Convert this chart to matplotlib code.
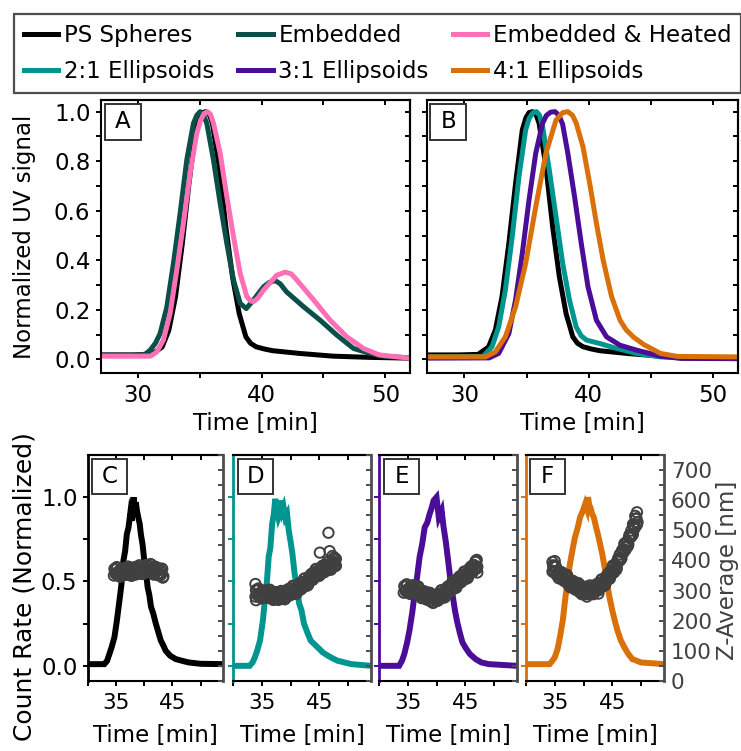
import matplotlib
matplotlib.use('Agg')
import matplotlib.pyplot as plt
from matplotlib.ticker import MultipleLocator, FixedLocator
from matplotlib.patches import Rectangle

# ---- UV traces (panels A and B), time in min, normalized signal ----
ps_t = [27, 29.5, 31.1, 31.95, 32.49, 33.03, 33.58, 34.12, 34.66, 34.95, 35.2, 35.47, 35.75,
        36.01, 36.56, 37.1, 37.64, 38.18, 38.72, 39.1, 39.54, 40.2, 40.89, 43.06, 45.77, 48.8, 52]
ps_v = [0.018, 0.018, 0.02, 0.05, 0.118, 0.253, 0.468, 0.71, 0.926, 0.975, 0.996, 1.0, 0.99,
        0.953, 0.778, 0.535, 0.333, 0.185, 0.091, 0.065, 0.051, 0.042, 0.035, 0.024, 0.013,
        0.008, 0.005]

emb_t = [27, 30.2, 30.6, 30.97, 31.4, 31.78, 32.32, 32.86, 33.4, 33.94, 34.48, 34.75, 35.02,
         35.3, 35.56, 36.1, 36.64, 37.18, 37.72, 38.26, 38.75, 39.34, 40.15, 40.6, 41.09, 41.5,
         42.0, 43.4, 44.73, 46.08, 47.43, 48.78, 50.0, 52]
emb_v = [0.017, 0.017, 0.022, 0.037, 0.065, 0.104, 0.21, 0.387, 0.589, 0.805, 0.953, 0.985, 1.0,
         0.985, 0.953, 0.805, 0.63, 0.468, 0.32, 0.226, 0.205, 0.24, 0.293, 0.31, 0.318, 0.305,
         0.273, 0.212, 0.158, 0.098, 0.044, 0.024, 0.012, 0.006]

heat_t = [27, 31.0, 31.51, 32.05, 32.59, 33.13, 33.67, 34.21, 34.75, 35.05, 35.35, 35.61, 35.85,
          36.1, 36.64, 37.18, 37.72, 38.26, 38.8, 39.1, 39.34, 39.7, 40.15, 41.23, 41.9, 42.4,
          42.85, 44.2, 45.54, 46.89, 48.24, 49.5, 52]
heat_v = [0.013, 0.013, 0.03, 0.078, 0.185, 0.36, 0.549, 0.751, 0.912, 0.965, 0.993, 1.0, 0.99,
          0.953, 0.832, 0.657, 0.495, 0.347, 0.253, 0.236, 0.233, 0.248, 0.28, 0.34, 0.352,
          0.345, 0.32, 0.24, 0.158, 0.091, 0.044, 0.018, 0.005]

e21_t = [27, 31.5, 32.22, 32.76, 33.3, 33.85, 34.39, 34.93, 35.2, 35.5, 35.8, 36.05, 36.29,
         36.83, 37.37, 37.91, 38.45, 38.99, 39.4, 39.81, 40.89, 42.25, 43.87, 45.77, 48, 52]
e21_v = [0.01, 0.012, 0.05, 0.131, 0.28, 0.495, 0.737, 0.926, 0.972, 0.995, 1.0, 0.985, 0.94,
         0.764, 0.576, 0.387, 0.24, 0.131, 0.095, 0.078, 0.064, 0.044, 0.024, 0.01, 0.005, 0.003]

e31_t = [27, 32.0, 32.76, 33.58, 34.12, 34.66, 35.2, 35.74, 36.29, 36.6, 36.95, 37.29, 37.6,
         37.9, 38.32, 38.86, 39.4, 39.94, 40.62, 41.43, 42.52, 43.87, 45.77, 47.4, 52]
e31_v = [0.005, 0.006, 0.024, 0.104, 0.24, 0.428, 0.643, 0.832, 0.953, 0.985, 0.998, 1.0, 0.985,
         0.95, 0.832, 0.657, 0.468, 0.293, 0.158, 0.091, 0.057, 0.037, 0.013, 0.004, 0.003]

e41_t = [27, 31.7, 32.49, 33.3, 34.12, 34.93, 35.74, 36.56, 37.37, 37.91, 38.32, 38.7, 39.0,
         39.54, 40.08, 40.62, 41.16, 41.84, 42.52, 43.0, 43.6, 44.42, 45.77, 47.12, 52]
e41_v = [0.01, 0.01, 0.03, 0.091, 0.212, 0.387, 0.616, 0.832, 0.966, 0.996, 1.0, 0.985, 0.953,
         0.858, 0.71, 0.549, 0.401, 0.253, 0.158, 0.12, 0.09, 0.06, 0.024, 0.012, 0.01]

# ---- DLS count rate traces (panels C-F) ----
c_t = [30, 32.9, 33.4, 33.8, 34.2, 34.7, 35.1, 35.6, 35.9, 36.3, 36.6, 36.9, 37.2, 37.5, 37.8,
       38.1, 38.3, 38.5, 38.7, 38.94, 39.2, 39.4, 39.7, 40.0, 40.3, 40.6, 40.9, 41.2, 41.6,
       42.06, 42.5, 42.94, 43.4, 43.8, 44.6, 45.6, 46.7, 47.9, 50, 54]
c_v = [0.01, 0.01, 0.03, 0.07, 0.11, 0.17, 0.26, 0.39, 0.47, 0.625, 0.68, 0.78, 0.82, 0.9, 0.86,
       1.0, 0.9, 0.97, 0.92, 0.88, 0.84, 0.78, 0.72, 0.625, 0.56, 0.466, 0.42, 0.35, 0.31,
       0.25, 0.2, 0.15, 0.12, 0.09, 0.06, 0.04, 0.03, 0.02, 0.012, 0.01]

d_t = [30, 32.9, 33.4, 33.8, 34.2, 34.7, 35.2, 35.6, 35.9, 36.2, 36.5, 36.8, 37.1, 37.35, 37.6,
       37.9, 38.1, 38.35, 38.6, 38.8, 39.1, 39.4, 39.7, 40.0, 40.35, 40.7, 41.1, 41.5, 41.9,
       42.35, 42.9, 43.5, 44.1, 44.7, 45.6, 46.5, 47.3, 48.2, 49.4, 50.6, 54]
d_v = [0.0, 0.0, 0.02, 0.05, 0.09, 0.15, 0.27, 0.41, 0.5, 0.645, 0.7, 0.84, 0.9, 0.99, 0.93,
       0.88, 0.9, 0.98, 0.92, 0.94, 0.88, 0.9, 0.8, 0.74, 0.66, 0.55, 0.47, 0.37, 0.33,
       0.25, 0.2, 0.15, 0.13, 0.11, 0.08, 0.06, 0.045, 0.03, 0.02, 0.01, 0.0]

e_t = [30, 33.5, 34.0, 34.4, 34.9, 35.3, 35.8, 36.2, 36.6, 37.06, 37.5, 37.94, 38.4, 38.8,
       39.1, 39.5, 40.0, 40.4, 40.9, 41.2, 41.6, 42.0, 42.35, 42.8, 43.2, 43.6, 44.1, 44.5,
       45.0, 45.8, 46.8, 47.8, 49.1, 54]
e_v = [0.0, 0.0, 0.03, 0.07, 0.14, 0.21, 0.32, 0.43, 0.52, 0.645, 0.72, 0.82, 0.85, 0.9,
       0.93, 0.98, 1.0, 0.88, 0.92, 0.83, 0.74, 0.63, 0.53, 0.42, 0.33, 0.26, 0.19, 0.14,
       0.11, 0.07, 0.04, 0.02, 0.01, 0.0]

f_t = [30, 34.1, 34.6, 35.0, 35.5, 35.9, 36.4, 36.8, 37.2, 37.65, 38.1, 38.5, 39.0, 39.4,
       39.9, 40.3, 40.6, 40.8, 41.0, 41.2, 41.5, 41.8, 42.2, 42.5, 42.9, 43.25, 43.7, 44.1,
       44.5, 45.0, 45.5, 45.9, 46.5, 47.1, 47.8, 48.5, 50.0, 54]
f_v = [0.01, 0.01, 0.03, 0.05, 0.1, 0.17, 0.27, 0.39, 0.5, 0.605, 0.69, 0.76, 0.82, 0.88,
       0.92, 0.96, 0.93, 1.0, 0.95, 0.94, 0.9, 0.88, 0.82, 0.78, 0.72, 0.665, 0.58, 0.49,
       0.41, 0.33, 0.26, 0.21, 0.15, 0.11, 0.07, 0.04, 0.02, 0.01]

# ---- Z-average (nm) points, read in two passes across each blob ----
cz_t = [34.6, 34.8, 35.0, 35.2, 35.4, 35.6, 35.8, 36.0, 36.2, 36.4, 36.6, 36.8, 37.0, 37.2,
        37.4, 37.6, 37.8, 38.0, 38.2, 38.4, 38.6, 38.8, 39.0, 39.2, 39.4, 39.6, 39.8, 40.0,
        40.2, 40.4, 40.6, 40.8, 41.0, 41.2, 41.4, 41.6, 41.8, 42.0, 42.2, 42.4, 42.6, 42.8,
        43.0, 43.2, 43.4,
        34.7, 34.9, 35.1, 35.3, 35.5, 35.7, 35.9, 36.1, 36.3, 36.5, 36.7, 36.9, 37.1, 37.3,
        37.5, 37.7, 37.9, 38.1, 38.3, 38.5, 38.7, 38.9, 39.1, 39.3, 39.5, 39.7, 39.9, 40.1,
        40.3, 40.5, 40.7, 40.9, 41.1, 41.3, 41.5, 41.7, 41.9, 42.1, 42.3, 42.5, 42.7, 42.9,
        43.1, 43.3]
cz_nm = [350, 370, 358, 376, 354, 366, 348, 372, 362, 352, 352, 372, 360, 378, 356, 368, 350,
         374, 364, 354, 354, 374, 362, 382, 360, 374, 356, 382, 372, 362, 361, 381, 369, 387,
         363, 375, 355, 379, 366, 356, 350, 370, 354, 372, 347,
         372, 356, 378, 350, 364, 346, 368, 358, 374, 355, 374, 358, 380, 353, 367, 349, 372,
         362, 378, 358, 376, 361, 384, 357, 372, 355, 378, 368, 385, 365, 383, 367, 388, 359,
         372, 353, 374, 362, 376, 354, 370, 352, 373, 343]

dz_t = [33.9, 34.1, 34.3, 34.5, 34.7, 34.9, 35.1, 35.3, 35.5, 35.7, 35.9, 36.1, 36.3, 36.5,
        36.7, 36.9, 37.1, 37.3, 37.5, 37.7, 37.9, 38.1, 38.3, 38.5, 38.7, 38.9, 39.1, 39.3,
        39.5, 39.7, 39.9, 40.1, 40.3, 40.5, 40.7, 40.9, 41.1, 41.3, 41.5, 41.7, 41.9, 42.1,
        42.3, 42.5, 42.7, 42.9, 43.1, 43.3, 43.5, 43.7, 43.9, 44.1, 44.3, 44.5, 44.7, 44.9,
        45.1, 45.3, 45.5, 45.7, 45.9, 46.1, 46.3, 46.5, 46.7, 46.9, 47.1, 47.3, 47.5, 47.7,
        47.9, 33.9, 34.0, 45.1, 46.6, 46.8, 47.6, 47.9, 47.3,
        34.0, 34.2, 34.4, 34.6, 34.8, 35.0, 35.2, 35.4, 35.6, 35.8, 36.0, 36.2, 36.4, 36.6,
        36.8, 37.0, 37.2, 37.4, 37.6, 37.8, 38.0, 38.2, 38.4, 38.6, 38.8, 39.0, 39.2, 39.4,
        39.6, 39.8, 40.0, 40.2, 40.4, 40.6, 40.8, 41.0, 41.2, 41.4, 41.6, 41.8, 42.0, 42.2,
        42.4, 42.6, 42.8, 43.0, 43.2, 43.4, 43.6, 43.8, 44.0, 44.2, 44.4, 44.6, 44.8, 45.0,
        45.2, 45.4, 45.6, 45.8, 46.0, 46.2, 46.4, 46.6, 46.8, 47.0, 47.2, 47.4, 47.6, 47.8]
dz_nm = [280, 300, 287, 305, 282, 294, 276, 299, 289, 278, 276, 296, 283, 300, 278, 289, 271,
         294, 283, 272, 269, 290, 279, 298, 277, 290, 274, 300, 292, 284, 284, 306, 295, 315,
         294, 308, 292, 319, 311, 304, 305, 328, 319, 340, 320, 335, 321, 348, 341, 335, 336,
         359, 350, 371, 352, 367, 352, 377, 369, 361, 361, 384, 374, 394, 374, 388, 372, 398,
         390, 382, 382, 322, 268, 426, 492, 431, 410, 405, 415,
         302, 286, 307, 279, 292, 274, 296, 285, 301, 280, 298, 282, 303, 274, 288, 269, 291,
         280, 295, 274, 291, 276, 299, 273, 288, 271, 295, 287, 305, 287, 307, 292, 316, 289,
         305, 289, 314, 306, 325, 307, 328, 315, 340, 315, 332, 317, 342, 336, 355, 338, 360,
         347, 372, 347, 364, 349, 373, 365, 383, 365, 385, 371, 395, 369, 385, 369, 393, 385,
         403, 385]

ez_t = [34.3, 34.5, 34.7, 34.9, 35.1, 35.3, 35.5, 35.7, 35.9, 36.1, 36.3, 36.5, 36.7, 36.9,
        37.1, 37.3, 37.5, 37.7, 37.9, 38.1, 38.3, 38.5, 38.7, 38.9, 39.1, 39.3, 39.5, 39.7,
        39.9, 40.1, 40.3, 40.5, 40.7, 40.9, 41.1, 41.3, 41.5, 41.7, 41.9, 42.1, 42.3, 42.5,
        42.7, 42.9, 43.1, 43.3, 43.5, 43.7, 43.9, 44.1, 44.3, 44.5, 44.7, 44.9, 45.1, 45.3,
        45.5, 45.7, 45.9, 46.1, 46.3, 46.5, 46.7, 46.9, 47.1, 47.0, 46.8, 47.1,
        34.4, 34.6, 34.8, 35.0, 35.2, 35.4, 35.6, 35.8, 36.0, 36.2, 36.4, 36.6, 36.8, 37.0,
        37.2, 37.4, 37.6, 37.8, 38.0, 38.2, 38.4, 38.6, 38.8, 39.0, 39.2, 39.4, 39.6, 39.8,
        40.0, 40.2, 40.4, 40.6, 40.8, 41.0, 41.2, 41.4, 41.6, 41.8, 42.0, 42.2, 42.4, 42.6,
        42.8, 43.0, 43.2, 43.4, 43.6, 43.8, 44.0, 44.2, 44.4, 44.6, 44.8, 45.0, 45.2, 45.4,
        45.6, 45.8, 46.0, 46.2, 46.4, 46.6, 46.8, 47.0]
ez_nm = [293, 313, 301, 319, 297, 309, 291, 316, 306, 295, 291, 309, 295, 311, 287, 296, 276,
         298, 286, 274, 270, 288, 274, 291, 268, 280, 261, 285, 275, 266, 267, 289, 280, 301,
         281, 296, 281, 308, 301, 294, 295, 318, 309, 330, 312, 327, 312, 340, 333, 327, 328,
         351, 342, 363, 344, 360, 345, 373, 366, 360, 361, 385, 376, 398, 379, 402, 395, 360,
         315, 299, 321, 293, 307, 289, 312, 302, 318, 297, 312, 294, 314, 284, 296, 275, 295,
         283, 297, 275, 291, 273, 293, 264, 278, 259, 281, 271, 287, 269, 290, 276, 301, 276,
         293, 277, 302, 295, 314, 297, 318, 306, 331, 306, 323, 309, 334, 327, 347, 330, 351,
         338, 363, 338, 356, 341, 367, 360, 380, 363, 385, 372, 398, 373]

fz_t = [34.6, 34.8, 35.0, 35.2, 35.4, 35.6, 35.8, 36.0, 36.2, 36.4, 36.6, 36.8, 37.0, 37.2,
        37.4, 37.6, 37.8, 38.0, 38.2, 38.4, 38.6, 38.8, 39.0, 39.2, 39.4, 39.6, 39.8, 40.0,
        40.2, 40.4, 40.6, 40.8, 41.0, 41.2, 41.4, 41.6, 41.8, 42.0, 42.2, 42.4, 42.6, 42.8,
        43.0, 43.2, 43.4, 43.6, 43.8, 44.0, 44.2, 44.4, 44.6, 44.8, 45.0, 45.2, 45.4, 45.6,
        45.8, 46.0, 46.2, 46.4, 46.6, 46.8, 47.0, 47.2, 47.4, 47.6, 47.8, 48.0, 48.2, 48.4,
        48.6, 48.8, 49.0, 49.2, 49.4, 34.6, 35.0, 49.3, 49.0, 48.6, 40.6, 42.6,
        34.7, 34.9, 35.1, 35.3, 35.5, 35.7, 35.9, 36.1, 36.3, 36.5, 36.7, 36.9, 37.1, 37.3,
        37.5, 37.7, 37.9, 38.1, 38.3, 38.5, 38.7, 38.9, 39.1, 39.3, 39.5, 39.7, 39.9, 40.1,
        40.3, 40.5, 40.7, 40.9, 41.1, 41.3, 41.5, 41.7, 41.9, 42.1, 42.3, 42.5, 42.7, 42.9,
        43.1, 43.3, 43.5, 43.7, 43.9, 44.1, 44.3, 44.5, 44.7, 44.9, 45.1, 45.3, 45.5, 45.7,
        45.9, 46.1, 46.3, 46.5, 46.7, 46.9, 47.1, 47.3, 47.5, 47.7, 47.9, 48.1, 48.3, 48.5,
        48.7, 48.9, 49.1, 49.3]
fz_nm = [363, 380, 364, 379, 354, 362, 341, 362, 349, 336, 332, 349, 334, 349, 324, 333, 312,
         333, 320, 307, 303, 321, 307, 322, 298, 309, 289, 312, 301, 290, 288, 308, 297, 316,
         295, 308, 291, 317, 309, 301, 301, 324, 316, 337, 319, 334, 321, 349, 343, 338, 340,
         366, 360, 384, 367, 386, 375, 406, 404, 401, 407, 435, 431, 457, 443, 463, 453, 485,
         483, 481, 487, 516, 513, 540, 527, 395, 398, 560, 548, 520, 280, 290,
         384, 364, 383, 352, 362, 341, 360, 347, 360, 337, 352, 333, 352, 321, 332, 311, 330,
         317, 331, 308, 324, 306, 325, 295, 307, 288, 308, 297, 313, 292, 310, 294, 317, 290,
         305, 288, 312, 304, 322, 304, 325, 312, 337, 313, 330, 317, 343, 337, 357, 342, 365,
         355, 383, 360, 380, 369, 399, 396, 420, 407, 433, 425, 455, 435, 457, 447, 477, 475,
         499, 487, 514, 507, 538, 519]

labels = ['PS Spheres', 'Embedded', 'Embedded & Heated',
          '2:1 Ellipsoids', '3:1 Ellipsoids', '4:1 Ellipsoids']
colors = ['#000000', '#0b4f49', '#ff6fb6', '#00958f', '#4b0c98', '#d9700a']
dot_gray = '#404040'

W, H = 741, 751
fig = plt.figure(figsize=(W / 100, H / 100), dpi=100)


def add_ax(l, r, t, b):
    return fig.add_axes([l / W, 1 - b / H, (r - l) / W, (b - t) / H])


def letter_box(ax, s, cx, cy, size=36):
    bb = ax.get_position()
    w = size / (bb.width * W)
    h = size / (bb.height * H)
    ax.add_patch(Rectangle((cx - w / 2, cy - h / 2), w, h, transform=ax.transAxes,
                           facecolor='white', edgecolor='#333333', lw=1.4, zorder=5))
    ax.text(cx, cy, s, transform=ax.transAxes, ha='center', va='center',
            fontsize=16.5, zorder=6)


def top_ticks(ax, ticks):
    sec = ax.secondary_xaxis('top')
    sec.set_xticks(ticks)
    sec.tick_params(direction='in', length=3.6, width=1.4, labeltop=False)
    sec.spines['top'].set_linewidth(1.5)
    return sec


# ---------------- panels A and B ----------------
axA = add_ax(101, 410, 100, 373)
axB = add_ax(427, 738, 100, 373)

lw = 3.6
hA = []
hA.append(axA.plot(ps_t, ps_v, color=colors[0], lw=lw)[0])
hA.append(axA.plot(emb_t, emb_v, color=colors[1], lw=lw)[0])
hA.append(axA.plot(heat_t, heat_v, color=colors[2], lw=lw)[0])
axB.plot(ps_t, ps_v, color=colors[0], lw=lw)
hB = []
hB.append(axB.plot(e21_t, e21_v, color=colors[3], lw=lw)[0])
hB.append(axB.plot(e31_t, e31_v, color=colors[4], lw=lw)[0])
hB.append(axB.plot(e41_t, e41_v, color=colors[5], lw=lw)[0])

for ax in (axA, axB):
    ax.set_xlim(27, 52)
    ax.set_ylim(-0.055, 1.047)
    ax.xaxis.set_major_locator(MultipleLocator(10))
    ax.xaxis.set_minor_locator(MultipleLocator(5))
    ax.yaxis.set_major_locator(MultipleLocator(0.2))
    ax.yaxis.set_minor_locator(MultipleLocator(0.1))
    ax.tick_params(which='both', direction='out', length=3.6, width=1.4, labelsize=16.5, pad=4)
    for sp in ax.spines.values():
        sp.set_linewidth(1.5)
    top_ticks(ax, [30, 35, 40, 45, 50])
    sec = ax.secondary_yaxis('right')
    sec.set_yticks([0, 0.2, 0.4, 0.6, 0.8, 1.0])
    sec.yaxis.set_minor_locator(MultipleLocator(0.1))
    sec.tick_params(which='both', direction='in', length=3.6, width=1.4, labelright=False)
    sec.spines['right'].set_linewidth(1.5)
    ax.set_xlabel('Time [min]', fontsize=16.5, labelpad=4)

axB.tick_params(labelleft=False)
axA.set_ylabel('Normalized UV signal', fontsize=16.5)
axA.yaxis.set_label_coords(-0.21, 0.5)
letter_box(axA, 'A', 0.071, 0.921)
letter_box(axB, 'B', 0.069, 0.921)

# ---------------- panels C-F ----------------
bottom = [
    ('C', 88, 223, colors[0], c_t, c_v, cz_t, cz_nm, 0.159),
    ('D', 233, 371, colors[3], d_t, d_v, dz_t, dz_nm, 0.164),
    ('E', 379, 517, colors[4], e_t, e_v, ez_t, ez_nm, 0.164),
    ('F', 526, 664, colors[5], f_t, f_v, fz_t, fz_nm, 0.157),
]
for i, (name, l, r, col, tt, vv, zt, znm, lx) in enumerate(bottom):
    ax = add_ax(l, r, 455, 681)
    ax.plot(tt, vv, color=col, lw=4.3, solid_joinstyle='miter')
    ax.set_xlim(30, 54)
    ax.set_ylim(-0.09, 1.25)
    ax.xaxis.set_major_locator(FixedLocator([35, 45]))
    ax.xaxis.set_minor_locator(FixedLocator([30, 40, 50]))
    ax.yaxis.set_major_locator(FixedLocator([0, 0.5, 1.0]))
    ax.yaxis.set_minor_locator(FixedLocator([0.25, 0.75]))
    ax.tick_params(which='both', direction='out', length=3.6, width=1.4, labelsize=15.5, pad=5)
    ax.tick_params(axis='y', which='both', colors=col, labelsize=16.5, pad=4)
    ax.tick_params(axis='y', labelcolor='black')
    ax.yaxis.set_major_formatter('{x:.1f}')
    if i > 0:
        ax.tick_params(labelleft=False)
    ax.spines['left'].set_color(col)
    ax.spines['left'].set_linewidth(2)
    ax.spines['right'].set_visible(False)
    for s in ('top', 'bottom'):
        ax.spines[s].set_linewidth(1.5)
    top_ticks(ax, [35, 40, 45, 50])
    ax.set_xlabel('Time [min]', fontsize=16.5, labelpad=8)
    letter_box(ax, name, lx, 0.905, size=35)

    ax2 = ax.twinx()
    ax2.scatter(zt, znm, s=55, facecolors='none', edgecolors=dot_gray, linewidths=1.4)
    ax2.set_ylim(0, 750)
    ax2.yaxis.set_major_locator(MultipleLocator(100))
    ax2.yaxis.set_minor_locator(MultipleLocator(50))
    ax2.tick_params(which='both', direction='in', length=3.6, width=1.4, colors='#4d4d4d',
                    labelsize=15.5, labelcolor=dot_gray, pad=5)
    for s in ('left', 'top', 'bottom'):
        ax2.spines[s].set_visible(False)
    ax2.spines['right'].set_color('#4d4d4d')
    ax2.spines['right'].set_linewidth(2)
    if name != 'F':
        ax2.tick_params(labelright=False)
    else:
        ax2.set_ylabel('Z-Average [nm]', fontsize=16.5, color=dot_gray)
        ax2.yaxis.set_label_coords(1.38, 0.49)
    if name == 'C':
        ax.set_ylabel('Count Rate (Normalized)', fontsize=18)
        ax.yaxis.set_label_coords(-0.38, 0.42)

# ---------------- legend ----------------
handles = [hA[0], hB[0], hA[1], hB[1], hA[2], hB[2]]
leg_labels = [labels[0], labels[3], labels[1], labels[4], labels[2], labels[5]]
leg = fig.legend(handles, leg_labels, ncol=3, loc='upper left',
                 bbox_to_anchor=(14 / W, 1 - 14 / H), borderaxespad=0, fontsize=16.5,
                 frameon=True, fancybox=False, handlelength=1.5, handletextpad=0.25,
                 columnspacing=1.05, labelspacing=0.6, borderpad=0.42)
leg.get_frame().set_edgecolor('#222222')
leg.get_frame().set_linewidth(1.6)

fig.savefig('out.png', dpi=100)
